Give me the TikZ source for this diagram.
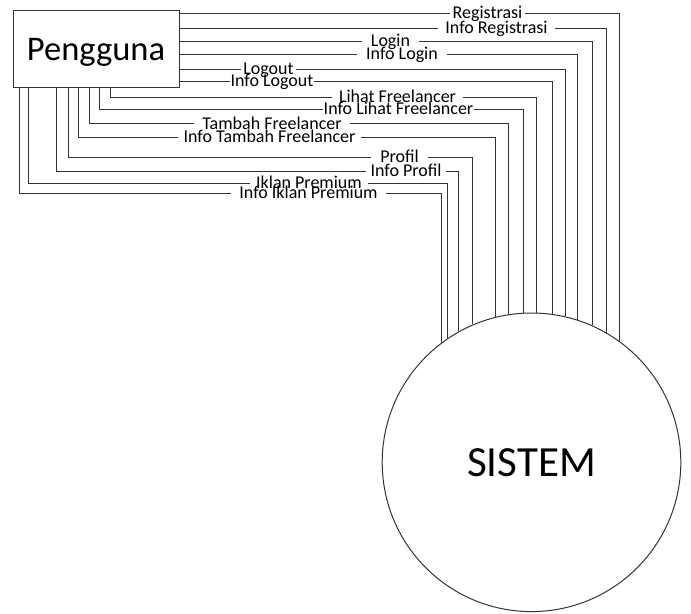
\documentclass[tikz,border=0pt]{standalone}
\usepackage{fontspec}
\setmainfont{Carlito}
\begin{document}
\begin{tikzpicture}[x=0.75pt,y=-0.75pt,
  flow/.style={draw=black!80, line width=0.75pt},
  % the white patch only hides the flow line behind the label, not neighbouring text
  lbl/.style={fill=white, inner ysep=0pt, anchor=base, text=black,
              text height=6pt, text depth=0pt,
              font=\fontsize{13.5pt}{15pt}\selectfont},
]
\useasboundingbox (0,0) rectangle (691,613);

% external entity and process
\node[draw=black!80, line width=0.75pt, minimum width=124.5pt, minimum height=57.75pt,
      inner sep=0pt, text depth=0pt, font=\fontsize{25.9pt}{30pt}\selectfont]
      (user) at (96,49.5) {Pengguna};
\node[circle, draw=black!80, line width=0.75pt, minimum size=223.95pt, inner sep=0pt,
      font=\fontsize{32.25pt}{36pt}\selectfont]
      (sys) at (531.5,462.3) {SISTEM};

% flows leaving the right side of the entity
\draw[flow] (user.east |- 0,14)   -| (sys.54.12);
\draw[flow] (user.east |- 0,29)   -| (sys.60.07);
\draw[flow] (user.east |- 0,42)   -| (sys.66.51);
\draw[flow] (user.east |- 0,55)   -| (sys.72.25);
\draw[flow] (user.east |- 0,70)   -| (sys.77.43);
\draw[flow] (user.east |- 0,82)   -| (sys.82.88);

% flows leaving the bottom of the entity
\draw[flow] (user.south -| 110,0) |- (sys.88.27 |- 0,98)    -- (sys.88.27);
\draw[flow] (user.south -| 99,0)  |- (sys.93.65 |- 0,110)   -- (sys.93.65);
\draw[flow] (user.south -| 89,0)  |- (sys.99.44 |- 0,124)   -- (sys.99.44);
\draw[flow] (user.south -| 78,0)  |- (sys.104.55 |- 0,137.5) -- (sys.104.55);
\draw[flow] (user.south -| 68,0)  |- (sys.113.07 |- 0,157)  -- (sys.113.07);
\draw[flow] (user.south -| 56,0)  |- (sys.119.05 |- 0,171.5) -- (sys.119.05);
\draw[flow] (user.south -| 28,0)  |- (sys.124.01 |- 0,183)  -- (sys.124.01);
\draw[flow] (user.south -| 19,0)  |- (sys.127.80 |- 0,193)  -- (sys.127.80);

% flow labels
\node[lbl, inner xsep=2.25pt] (t1)  at (487.5,19)   {Registrasi};
\node[lbl, inner xsep=5.25pt] (t2)  at (496.5,34)   {Info Registrasi};
\node[lbl, inner xsep=6.75pt] (t3)  at (390.5,47)   {Login};
\node[lbl, inner xsep=6.75pt] (t4)  at (402,60)     {Info Login};
\node[lbl, inner xsep=1.5pt]  (t5)  at (268.5,75)   {Logout};
\node[lbl, inner xsep=0.75pt] (t6)  at (272,87)     {Info Logout};
\node[lbl, inner xsep=4.9pt]  (t7)  at (397.5,103)  {Lihat Freelancer};
\node[lbl, inner xsep=0.75pt] (t8)  at (398.5,115)  {Info Lihat Freelancer};
\node[lbl, inner xsep=6.4pt]  (t9)  at (272,129)    {Tambah Freelancer};
\node[lbl, inner xsep=4.1pt]  (t10) at (269.5,142.5) {Info Tambah Freelancer};
\node[lbl, inner xsep=7.1pt]  (t11) at (399.5,162)  {Profil};
\node[lbl, inner xsep=3.4pt]  (t12) at (406,176.5)  {Info Profil};
\node[lbl, inner xsep=4.5pt]  (t13) at (309,188)    {Iklan Premium};
\node[lbl, inner xsep=6.4pt]  (t14) at (308.5,198)  {Info Iklan Premium};
\end{tikzpicture}
\end{document}
